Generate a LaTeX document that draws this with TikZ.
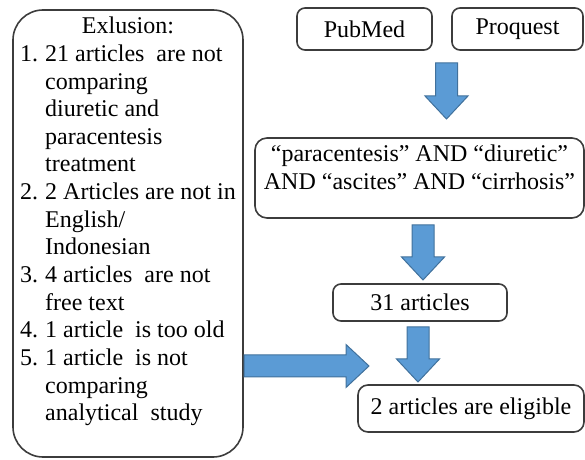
\documentclass[tikz,border=0pt]{standalone}
\usepackage{fontspec}
\newfontfamily\libserif{Liberation Serif}
\usetikzlibrary{calc}

\tikzset{
  box/.style={draw={rgb,255:red,60;green,60;blue,60}, line width=0.8pt, rounded corners=4pt, inner sep=0pt,
    font=\libserif\fontsize{12}{14}\selectfont},
  fatarrow/.style={draw={rgb,255:red,65;green,113;blue,156}, fill={rgb,255:red,91;green,155;blue,213}, line width=0.5pt,
    to path={
      ($(\tikztotarget)!11.5pt!(\tikztostart)$) coordinate (fathead)
      ($(\tikztostart)!5.5pt!90:(\tikztotarget)$) -- ($(fathead)!5.5pt!-90:(\tikztostart)$)
      -- ($(fathead)!10.75pt!-90:(\tikztostart)$) -- (\tikztotarget)
      -- ($(fathead)!10.75pt!90:(\tikztostart)$) -- ($(fathead)!5.5pt!90:(\tikztostart)$)
      -- ($(\tikztostart)!5.5pt!-90:(\tikztotarget)$) -- cycle}},
}

\begin{document}
\begin{tikzpicture}[x=0.5pt, y=-0.5pt]
    \useasboundingbox (0,0) rectangle (585,460);

    % Boxes
    \node[box] (pubmed) at (364.5,29) [minimum width=67.5pt, minimum height=21pt] {PubMed};
    \node[box] (proquest) at (517.5,29) [minimum width=65.5pt, minimum height=21pt] {Proquest};
    \node[box, rounded corners=6pt, minimum width=164.5pt, minimum height=40pt, align=center] (query) at (419.5,178)
        {“paracentesis” AND “diuretic”\\AND “ascites” AND “cirrhosis”\\[-3pt]\mbox{}};
    \node[box] (found) at (420,302.5) [minimum width=87pt, minimum height=18.5pt] {31 articles};
    \node[box, rounded corners=5pt] (eligible) at (471,408.5) [minimum width=113pt, minimum height=23.5pt] {2 articles are eligible};
    \node[box, rounded corners=15pt, minimum width=115pt, minimum height=223.5pt] (exclusion) at (128,233.5)
        {\fontsize{12}{13.82}\selectfont
         \begin{tabular}{@{}l@{\hspace{3.5pt}}l@{}}
         \multicolumn{2}{c}{Exlusion:}\\
         1. & 21 articles\ \ are not\\
            & comparing\\
            & diuretic and\\
            & paracentesis\\
            & treatment\\
         2. & 2 Articles are not in\\
            & English/\\
            & Indonesian\\
         3. & 4 articles\ \ are not\\
            & free text\\
         4. & 1 article\ \ is too old\\
         5. & 1 article\ \ is not\\
            & comparing\\
            & analytical\ \ study\\[11.8pt]
         \end{tabular}};

    % Arrows
    \coordinate (srctail) at (446.5,63);
    \coordinate (srctip) at (446.5,119);
    \coordinate (querytail) at (423,225);
    \coordinate (querytip) at (423,280);
    \coordinate (foundtail) at (418,327);
    \coordinate (foundtip) at (418,382);
    \coordinate (excltail) at (244,366);
    \coordinate (excltip) at (369,366);
    \draw[fatarrow] (srctail) to (srctip);
    \draw[fatarrow] (querytail) to (querytip);
    \draw[fatarrow] (foundtail) to (foundtip);
    \draw[fatarrow] (excltail) to (excltip);

\end{tikzpicture}
\end{document}
